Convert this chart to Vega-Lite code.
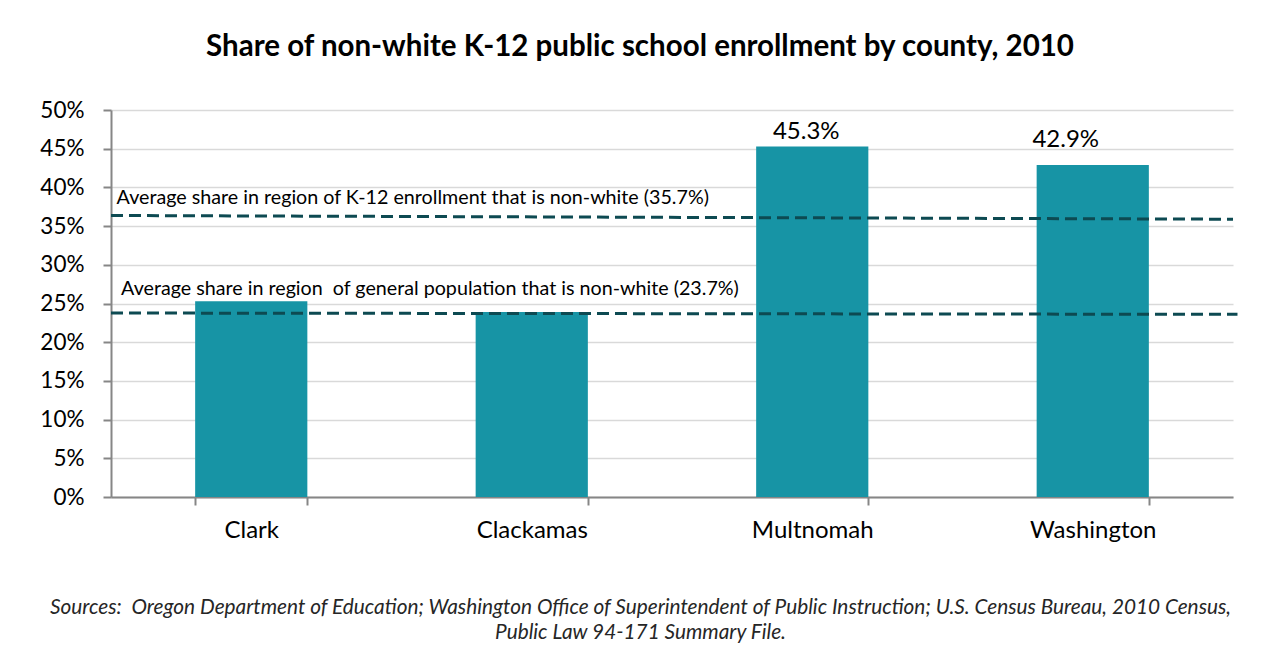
{
  "$schema": "https://vega.github.io/schema/vega-lite/v6.json",
  "autosize": "none",
  "width": 1122,
  "height": 387,
  "padding": {"left": 111, "top": 110, "right": 37, "bottom": 161},
  "background": "white",
  "title": {
    "text": "Share of non-white K-12 public school enrollment by county, 2010",
    "font": "Lato",
    "fontSize": 29.5,
    "fontWeight": "bold",
    "color": "#000000",
    "anchor": "middle",
    "dx": -32,
    "offset": 37
  },
  "config": {
    "view": {"stroke": null},
    "font": "Lato"
  },
  "layer": [
    {
      "data": {
        "values": [
          {"county": "Clark", "share": 0.253},
          {"county": "Clackamas", "share": 0.239},
          {"county": "Multnomah", "share": 0.453},
          {"county": "Washington", "share": 0.429}
        ]
      },
      "encoding": {
        "x": {
          "field": "county",
          "type": "nominal",
          "sort": null,
          "scale": {"paddingInner": 0.6, "paddingOuter": 0.3},
          "axis": {
            "title": ["Sources:\u00a0 Oregon Department of Education; Washington Office of Superintendent of Public Instruction; U.S. Census Bureau, 2010 Census,", "Public Law 94-171 Summary File."],
            "titleFont": "Lato",
            "titleFontSize": 20.8,
            "titleFontStyle": "italic",
            "titleFontWeight": "normal",
            "titleColor": "#262626",
            "titleLineHeight": 25,
            "titlePadding": 55,
            "titleX": 529,
            "titleAlign": "center",
            "labelAngle": 0,
            "labelFontSize": 24,
            "labelColor": "#000000",
            "labelPadding": 13,
            "tickBand": "extent",
            "tickSize": 8,
            "tickColor": "#868686",
            "tickWidth": 2,
            "domainColor": "#868686",
            "domainWidth": 2,
            "grid": false
          }
        },
        "y": {
          "field": "share",
          "type": "quantitative",
          "scale": {"domain": [0, 0.5]},
          "axis": {
            "title": null,
            "format": ".0%",
            "values": [0, 0.05, 0.1, 0.15, 0.2, 0.25, 0.3, 0.35, 0.4, 0.45, 0.5],
            "labelOverlap": false,
            "labelFontSize": 22.5,
            "labelColor": "#000000",
            "labelPadding": 19,
            "tickSize": 8,
            "tickColor": "#868686",
            "tickWidth": 2,
            "domainColor": "#868686",
            "domainWidth": 2,
            "gridColor": "#D9D9D9",
            "gridWidth": 1.5
          }
        }
      },
      "layer": [
        {"mark": {"type": "bar", "color": "#1794A5"}},
        {
          "transform": [{"filter": "datum.county == 'Multnomah'"}],
          "mark": {"type": "text", "baseline": "bottom", "dy": -2, "dx": -6, "fontSize": 24, "color": "#000000"},
          "encoding": {"text": {"field": "share", "type": "quantitative", "format": ".1%"}}
        },
        {
          "transform": [{"filter": "datum.county == 'Washington'"}],
          "mark": {"type": "text", "baseline": "bottom", "dy": -13, "dx": -27, "fontSize": 24, "color": "#000000"},
          "encoding": {"text": {"field": "share", "type": "quantitative", "format": ".1%"}}
        }
      ]
    },
    {
      "data": {
        "values": [
          {"series": "k12", "pos": 0, "value": 0.3637},
          {"series": "k12", "pos": 1, "value": 0.3589},
          {"series": "general", "pos": 0, "value": 0.2377},
          {"series": "general", "pos": 1.004, "value": 0.236}
        ]
      },
      "mark": {"type": "line", "color": "#0D4A52", "strokeWidth": 3, "strokeDash": [12, 6]},
      "encoding": {
        "x": {"field": "pos", "type": "quantitative", "scale": {"domain": [0, 1]}, "axis": null},
        "y": {
          "field": "value",
          "type": "quantitative",
          "axis": {
            "title": null,
            "format": ".0%",
            "values": [0, 0.05, 0.1, 0.15, 0.2, 0.25, 0.3, 0.35, 0.4, 0.45, 0.5],
            "labelOverlap": false,
            "labelFontSize": 22.5,
            "labelColor": "#000000",
            "labelPadding": 19,
            "tickSize": 8,
            "tickColor": "#868686",
            "tickWidth": 2,
            "domainColor": "#868686",
            "domainWidth": 2,
            "gridColor": "#D9D9D9",
            "gridWidth": 1.5
          }
        },
        "detail": {"field": "series"}
      }
    },
    {
      "data": {
        "values": [
          {"label": "Average share in region of K-12 enrollment that is non-white (35.7%)", "pos": 0.005, "value": 0.379},
          {"label": "Average share in region\u00a0 of general population that is non-white (23.7%)", "pos": 0.009, "value": 0.2605}
        ]
      },
      "mark": {"type": "text", "align": "left", "baseline": "alphabetic", "fontSize": 19.7, "color": "#000000"},
      "encoding": {
        "x": {"field": "pos", "type": "quantitative", "scale": {"domain": [0, 1]}, "axis": null},
        "y": {
          "field": "value",
          "type": "quantitative",
          "axis": {
            "title": null,
            "format": ".0%",
            "values": [0, 0.05, 0.1, 0.15, 0.2, 0.25, 0.3, 0.35, 0.4, 0.45, 0.5],
            "labelOverlap": false,
            "labelFontSize": 22.5,
            "labelColor": "#000000",
            "labelPadding": 19,
            "tickSize": 8,
            "tickColor": "#868686",
            "tickWidth": 2,
            "domainColor": "#868686",
            "domainWidth": 2,
            "gridColor": "#D9D9D9",
            "gridWidth": 1.5
          }
        },
        "text": {"field": "label"}
      }
    }
  ],
  "resolve": {"scale": {"x": "independent"}, "axis": {"x": "independent"}}
}
